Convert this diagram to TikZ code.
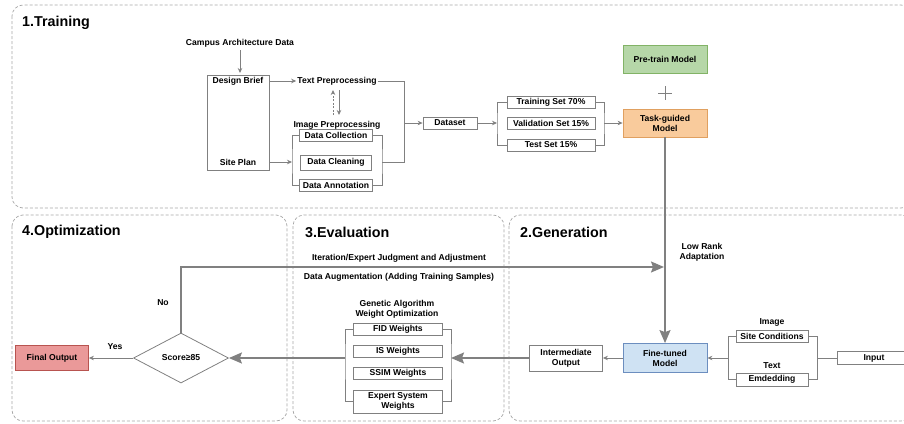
\documentclass[tikz,border=0pt]{standalone}
\usepackage{fontspec}
\setmainfont{Liberation Sans}
\usetikzlibrary{arrows.meta,shapes.geometric}
\definecolor{lgray}{HTML}{808080}
\definecolor{dgray}{HTML}{A6A6A6}
\definecolor{pgreen}{HTML}{B6D7A8}
\definecolor{bgreen}{HTML}{82B366}
\definecolor{porange}{HTML}{F9CB9C}
\definecolor{borange}{HTML}{E0A060}
\definecolor{pblue}{HTML}{CFE2F3}
\definecolor{bblue}{HTML}{6C8EBF}
\definecolor{pred}{HTML}{EA9999}
\definecolor{bred}{HTML}{B85450}
\tikzset{
  txt/.style={font=\fontsize{8.6}{10}\selectfont\bfseries, inner sep=1pt, align=center},
  ttl/.style={font=\fontsize{14.3}{16}\selectfont\bfseries, inner sep=0pt, anchor=west},
  sbox/.style={txt, draw=lgray, line width=0.8pt, fill=white, inner sep=0pt},
  region/.style={draw=dgray, line width=0.7pt, dash pattern=on 3pt off 2pt, rounded corners=11pt},
  conn/.style={draw=lgray, line width=0.8pt},
  arr/.style={conn, -{Stealth[length=5pt,width=4.5pt]}},
  big/.style={draw=lgray, line width=1.6pt, -{Stealth[length=13pt,width=11pt,inset=2pt]}},
}
\begin{document}
\begin{tikzpicture}[x=1pt,y=-1pt]
\useasboundingbox (0,0) rectangle (904,423);
% regions
\draw[region] (12,5) rectangle (912,208);
\draw[region] (12,215) rectangle (287,421);
\draw[region] (293,215) rectangle (504,421);
\draw[region] (509,215) rectangle (912,421);
\node[ttl] (t1) at (22,23) {1.Training};
\node[ttl] (t4) at (22,232) {4.Optimization};
\node[ttl] (t3) at (305,232) {3.Evaluation};
\node[ttl] (t2) at (520,232) {2.Generation};

% ---- Training
\node[txt] (campus) at (240,43) {Campus Architecture Data};
\node[draw=lgray, line width=0.8pt, minimum width=62pt, minimum height=95pt, inner sep=0pt] (bigbox) at (238,122.5) {};
\node[txt] (brief) at (238,81) {Design Brief};
\node[txt] (site) at (238,162) {Site Plan};
\coordinate (ca) at (240,50);
\coordinate (cb) at (240,73);
\draw[arr] (ca) -- (cb);
\node[txt] (textpre) at (337,81) {Text Preprocessing};
\node[txt] (imgpre) at (337,125) {Image Preprocessing};
\draw[arr] (bigbox.east |- brief) -- (textpre.west);
\coordinate (da1) at (333,115);
\coordinate (da2) at (333,90);
\coordinate (sa1) at (339,90);
\coordinate (sa2) at (339,115);
\draw[arr, dashed, dash pattern=on 2pt off 1.5pt] (da1) -- (da2);
\draw[arr] (sa1) -- (sa2);
\node[sbox, minimum width=73pt, minimum height=12pt] (dcoll) at (336,135) {Data Collection};
\node[sbox, minimum width=71pt, minimum height=15pt] (dclean) at (336,162.5) {Data Cleaning};
\node[sbox, minimum width=73pt, minimum height=12pt] (dann) at (336,185) {Data Annotation};
\coordinate (lb) at (292,162);
\coordinate (rb) at (382,162.5);
\coordinate (j) at (404,123);
\draw[conn] (dcoll.west) -| (lb) |- (dann.west);
\draw[conn] (dcoll.east) -| (rb) |- (dann.east);
\draw[arr] (bigbox.east |- site) -- (lb);
\draw[conn] (textpre.east) -| (j);
\draw[conn] (rb) -| (j);
\node[sbox, minimum width=54pt, minimum height=12pt] (dataset) at (450,123) {Dataset};
\draw[arr] (j) -- (dataset.west);
\node[sbox, minimum width=88pt, minimum height=12pt] (trainset) at (551,102) {Training Set 70\%};
\node[sbox, minimum width=88pt, minimum height=12pt] (valset) at (551,123) {Validation Set 15\%};
\node[sbox, minimum width=88pt, minimum height=12pt] (testset) at (551,145) {Test Set 15\%};
\coordinate (lb2) at (497,123);
\coordinate (rb2) at (604,123);
\draw[arr] (dataset.east) -- (lb2);
\draw[conn] (trainset.west) -| (lb2) |- (testset.west);
\draw[conn] (trainset.east) -| (rb2) |- (testset.east);
\node[txt, draw=bgreen, fill=pgreen, line width=0.8pt, minimum width=84pt, minimum height=28pt] (pretrain) at (665,59) {Pre-train Model};
\node[txt, draw=borange, fill=porange, line width=0.8pt, minimum width=84pt, minimum height=28pt] (task) at (665,123) {Task-guided\\Model};
\draw[arr] (rb2) -- (task.west);
\draw[lgray, line width=1pt] (658,93) -- (672,93) (665,86) -- (665,100);

% ---- Generation
\node[txt, draw=bblue, fill=pblue, line width=0.8pt, minimum width=84pt, minimum height=29pt] (fine) at (665,358) {Fine-tuned\\Model};
\draw[big] (task.south) -- (fine.north);
\node[txt] (lora) at (702,252) {Low Rank\\Adaptation};
\node[sbox, minimum width=73pt, minimum height=26pt] (inter) at (566,358) {Intermediate\\Output};
\draw[arr] (fine.west) -- (inter.east);
\node[sbox, minimum width=72pt, minimum height=12pt] (sitec) at (772,336) {Site Conditions};
\node[sbox, minimum width=72pt, minimum height=13pt] (emb) at (772,379.5) {Emdedding};
\node[txt] (imgl) at (772,322) {Image};
\node[txt] (txtl) at (772,366) {Text};
\coordinate (ilb) at (728,358);
\coordinate (irb) at (817,358);
\draw[conn] (sitec.west) -| (ilb) |- (emb.west);
\draw[conn] (sitec.east) -| (irb) |- (emb.east);
\node[sbox, minimum width=74pt, minimum height=13pt, text width=72pt] (input) at (874,358) {Input};
\draw[conn] (input.west) -- (irb);
\draw[arr] (ilb) -- (fine.east);

% ---- Evaluation
\node[txt] (gal) at (397,309) {Genetic Algorithm\\Weight Optimization};
\node[sbox, minimum width=89pt, minimum height=12pt] (fid) at (398,329) {FID Weights};
\node[sbox, minimum width=89pt, minimum height=12pt] (isw) at (398,351.5) {IS Weights};
\node[sbox, minimum width=89pt, minimum height=12pt] (ssim) at (398,373) {SSIM Weights};
\node[sbox, minimum width=89pt, minimum height=23pt] (expert) at (398,401.5) {Expert System\\Weights};
\coordinate (elb) at (345,358);
\coordinate (erb) at (451,358);
\draw[conn] (fid.west) -| (elb) |- (expert.west);
\draw[conn] (fid.east) -| (erb) |- (expert.east);
\draw[big] (inter.west) -- (erb);

% ---- Optimization
\node[txt, draw=lgray, line width=0.8pt, shape=diamond, minimum width=95pt, minimum height=50pt, inner sep=0pt] (score) at (181,358) {Score≥85};
\node[txt, draw=bred, fill=pred, line width=0.8pt, minimum width=73pt, minimum height=25pt] (final) at (52,358) {Final Output};
\draw[big] (elb) -- (score.east);
\draw[arr] (score.west) -- (final.east);
\node[txt] (yes) at (115,347) {Yes};
\node[txt] (no) at (163,303) {No};
\coordinate (fbend) at (664,267);
\draw[big] (score.north) |- (fbend);
\node[txt] (iter) at (399,258) {Iteration/Expert Judgment and Adjustment};
\node[txt] (aug) at (399,277) {Data Augmentation (Adding Training Samples)};
\end{tikzpicture}
\end{document}
